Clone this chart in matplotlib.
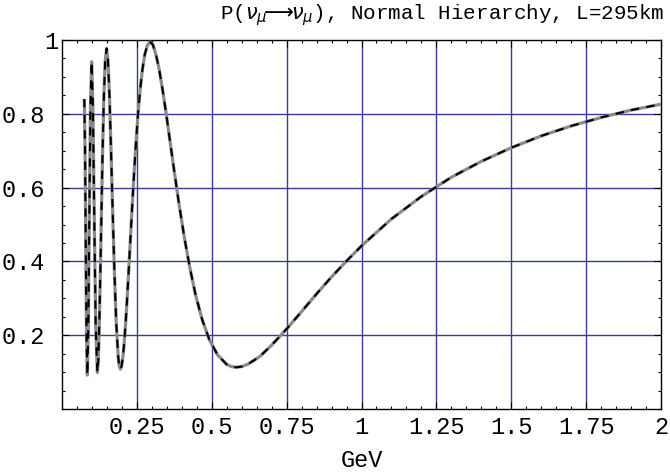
import matplotlib
matplotlib.use("Agg")
import matplotlib.pyplot as plt
from matplotlib.ticker import MultipleLocator, FixedLocator

# ---- data ----
energy_gev = [
    0.0745, 0.0770, 0.0795, 0.0820, 0.0846,
    0.0878, 0.0912, 0.0950, 0.0990,
    0.1032, 0.1077, 0.1126, 0.1180,
    0.1212, 0.1245, 0.1280, 0.1318, 0.1357, 0.1399, 0.1443, 0.1490,
    0.1536, 0.1584, 0.1635, 0.1689, 0.1748, 0.1810, 0.1877, 0.1912, 0.1950,
    0.1991, 0.2035, 0.2081, 0.2129, 0.2179, 0.2232, 0.2287, 0.2345, 0.2406,
    0.2470, 0.2537, 0.2609, 0.2685, 0.2765, 0.2851, 0.2940,
    0.3035, 0.3136, 0.3243, 0.3357, 0.3481, 0.3613, 0.3755, 0.3910, 0.4078,
    0.4261, 0.4460, 0.4681, 0.4924, 0.5192, 0.5495, 0.5650, 0.5830,
    0.60, 0.62, 0.66, 0.70, 0.75, 0.80, 0.85, 0.90, 0.95, 1.00,
    1.10, 1.20, 1.30, 1.40, 1.50, 1.60, 1.70, 1.80, 1.90, 2.00,
]
p_survival = [
    0.840, 0.700, 0.420, 0.190, 0.092,
    0.216, 0.517, 0.817, 0.941,
    0.818, 0.520, 0.222, 0.099,
    0.132, 0.227, 0.370, 0.538, 0.706, 0.849, 0.944, 0.977,
    0.944, 0.850, 0.708, 0.543, 0.377, 0.235, 0.141, 0.116, 0.108,
    0.117, 0.142, 0.183, 0.238, 0.305, 0.382, 0.465, 0.552, 0.638,
    0.721, 0.798, 0.865, 0.920, 0.961, 0.986, 0.995,
    0.987, 0.961, 0.921, 0.866, 0.799, 0.722, 0.640, 0.554, 0.468,
    0.386, 0.309, 0.242, 0.187, 0.147, 0.121, 0.115, 0.113,
    0.115, 0.121, 0.142, 0.173, 0.217, 0.264, 0.312, 0.358, 0.401, 0.442,
    0.515, 0.576, 0.628, 0.671, 0.708, 0.740, 0.767, 0.790, 0.810, 0.826,
]
x_ticks = [0.25, 0.5, 0.75, 1.0, 1.25, 1.5, 1.75, 2.0]
x_tick_labels = ["0.25", "0.5", "0.75", "1", "1.25", "1.5", "1.75", "2"]
y_ticks = [0.2, 0.4, 0.6, 0.8, 1.0]
y_tick_labels = ["0.2 ", "0.4 ", "0.6 ", "0.8 ", "1"]

MONO = ["Liberation Mono", "DejaVu Sans Mono"]
FS = 17

fig = plt.figure(figsize=(6.7, 4.74), dpi=100)
ax = fig.add_axes([62 / 670, 1 - 409 / 474, 599 / 670, 369 / 474])

ax.set_xlim(0, 2)
ax.set_ylim(0, 1)

grid_color = "#3a3a9c"
for xv in x_ticks[:-1]:
    ax.axvline(xv, color=grid_color, lw=1.0, zorder=1)
for yv in y_ticks[:-1]:
    ax.axhline(yv, color=grid_color, lw=1.0, zorder=1)

ax.plot(energy_gev, p_survival, color="#8a8a8a", lw=2.3, zorder=3,
        solid_capstyle="butt", solid_joinstyle="round")
ax.plot(energy_gev, p_survival, color="black", lw=1.5, zorder=4,
        dashes=(4, 3.5), dash_capstyle="butt")

ax.xaxis.set_major_locator(FixedLocator(x_ticks))
ax.yaxis.set_major_locator(FixedLocator(y_ticks))
ax.set_xticklabels(x_tick_labels, family=MONO, fontsize=FS)
ax.set_yticklabels(y_tick_labels, family=MONO, fontsize=FS)
ax.xaxis.set_minor_locator(MultipleLocator(0.05))
ax.yaxis.set_minor_locator(MultipleLocator(0.05))
ax.tick_params(which="both", direction="in", top=True, right=True,
               width=0.8, color="black")
ax.tick_params(which="major", length=5)
ax.tick_params(which="minor", length=2.2)
ax.tick_params(axis="x", which="major", pad=5)
ax.tick_params(axis="y", which="major", pad=2.5)

for sp in ax.spines.values():
    sp.set_linewidth(1.0)
    sp.set_color("black")

ax.set_xlabel("GeV", family=MONO, fontsize=FS, labelpad=7)

fig.text(664 / 670, 1 - 15 / 474,
         r"P($\nu_\mu\!\!\longrightarrow\!\!\nu_\mu$), Normal Hierarchy, L=295km",
         family=MONO, fontsize=15, ha="right", va="center")

fig.savefig("out.png", dpi=100, facecolor="white")
